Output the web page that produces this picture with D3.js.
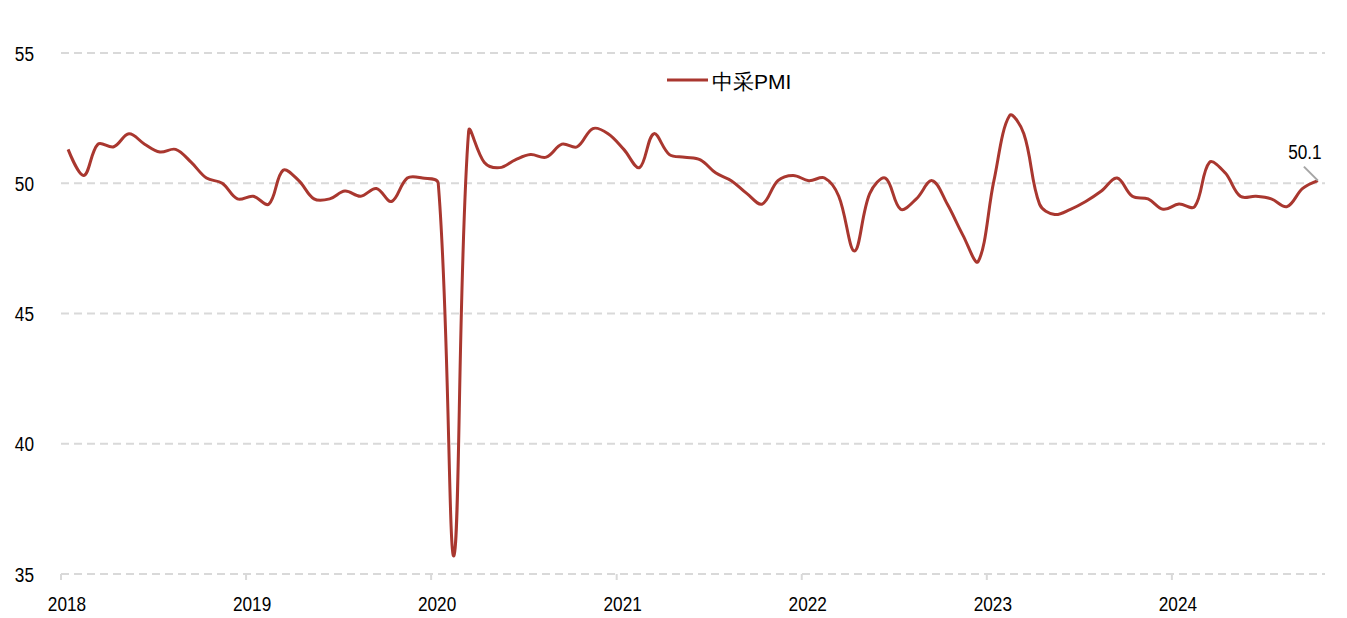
<!DOCTYPE html>
<html><head><meta charset="utf-8">
<script src="https://cdn.jsdelivr.net/npm/d3@7"></script>
<style>body{margin:0;background:#fff}svg{display:block}text{font-family:"Liberation Sans",Arial,sans-serif}</style>
</head><body><svg id="c" width="1347" height="618"></svg>
<script>
const seriesName = "中采PMI";
const startYear = 2018;
const pmi = [
 51.3,50.3,51.5,51.4,51.9,51.5,51.2,51.3,50.8,50.2,50.0,49.4,
 49.5,49.2,50.5,50.1,49.4,49.4,49.7,49.5,49.8,49.3,50.2,50.2,
 50.0,35.7,52.0,50.8,50.6,50.9,51.1,51.0,51.5,51.4,52.1,51.9,
 51.3,50.6,51.9,51.1,51.0,50.9,50.4,50.1,49.6,49.2,50.1,50.3,
 50.1,50.2,49.5,47.4,49.6,50.2,49.0,49.4,50.1,49.2,48.0,47.0,
 50.1,52.6,51.9,49.2,48.8,49.0,49.3,49.7,50.2,49.5,49.4,49.0,
 49.2,49.1,50.8,50.4,49.5,49.5,49.4,49.1,49.8,50.1
];
const yTicks = [35,40,45,50,55];
const xTickYears = [2018,2019,2020,2021,2022,2023,2024];
const lastLabel = "50.1";

(function(){
const data = pmi.map((v,i)=>({date:new Date(startYear, i, 15), v}));
const svg = d3.select("#c");
const mL = 61, mR = 1325, mT = 53, mB = 574;
const x = d3.scaleTime().domain([new Date(2018,0,1), new Date(2024,9,29)]).range([mL,mR]);
const y = d3.scaleLinear().domain([35,55]).range([mB,mT]);

svg.append("g").selectAll("line").data(yTicks).join("line")
  .attr("x1",mL).attr("x2",mR).attr("y1",d=>y(d)).attr("y2",d=>y(d))
  .attr("stroke","#D9D9D9").attr("stroke-width",2).attr("stroke-dasharray","8,5");

svg.append("g").selectAll("text").data(yTicks).join("text")
  .attr("transform",d=>`translate(34,${y(d)+7.5}) scale(0.84,1)`)
  .attr("text-anchor","end").attr("font-size",20.5).attr("fill","#000").text(d=>d);

const xt = xTickYears.map(yr=>new Date(yr,0,1));
svg.append("g").selectAll("line").data(xt).join("line")
  .attr("x1",d=>x(d)).attr("x2",d=>x(d)).attr("y1",mB).attr("y2",mB+6)
  .attr("stroke","#D9D9D9").attr("stroke-width",2);
svg.append("g").selectAll("text").data(xt).join("text")
  .attr("transform",d=>`translate(${x(d)+6},${mB+37}) scale(0.84,1)`)
  .attr("text-anchor","middle").attr("font-size",20.5).attr("fill","#000").text(d=>d.getFullYear());

// Excel-like smoothing: tangents weighted by adjacent segment lengths
const P = data.map(d=>[x(d.date), y(d.v)]);
const k = 0.36;
const dist = (a,b)=>Math.hypot(b[0]-a[0], b[1]-a[1]);
const p = d3.path();
p.moveTo(P[0][0], P[0][1]);
for (let i=0;i<P.length-1;i++){
  const a = P[i], b = P[i+1];
  const a0 = P[i-1] || a, b1 = P[i+2] || b;
  const dab = dist(a,b);
  const wa = (i>0) ? dab/(dab+dist(a0,a)) : 0;
  const wb = (i+2<P.length) ? dab/(dab+dist(b,b1)) : 0;
  const c1 = [a[0]+(b[0]-a0[0])*k*wa, a[1]+(b[1]-a0[1])*k*wa];
  const c2 = [b[0]-(b1[0]-a[0])*k*wb, b[1]-(b1[1]-a[1])*k*wb];
  p.bezierCurveTo(c1[0],c1[1],c2[0],c2[1],b[0],b[1]);
}
svg.append("path").attr("d",p.toString()).attr("fill","none")
  .attr("stroke","#A9372F").attr("stroke-width",3).attr("stroke-linejoin","round");

const last = data[data.length-1];
const lx = x(last.date), ly = y(last.v);
svg.append("line").attr("x1",lx-14).attr("y1",ly-14).attr("x2",lx).attr("y2",ly)
  .attr("stroke","#A6A6A6").attr("stroke-width",2);
svg.append("text").attr("transform",`translate(${lx-13},${ly-22}) scale(0.84,1)`)
  .attr("text-anchor","middle").attr("font-size",20.5).attr("fill","#000").text(lastLabel);

svg.append("line").attr("x1",667).attr("x2",708).attr("y1",80).attr("y2",80)
  .attr("stroke","#A9372F").attr("stroke-width",3);
svg.append("text").attr("x",712).attr("y",89)
  .attr("font-size",21).attr("fill","#000").text(seriesName);
})();
</script></body></html>
